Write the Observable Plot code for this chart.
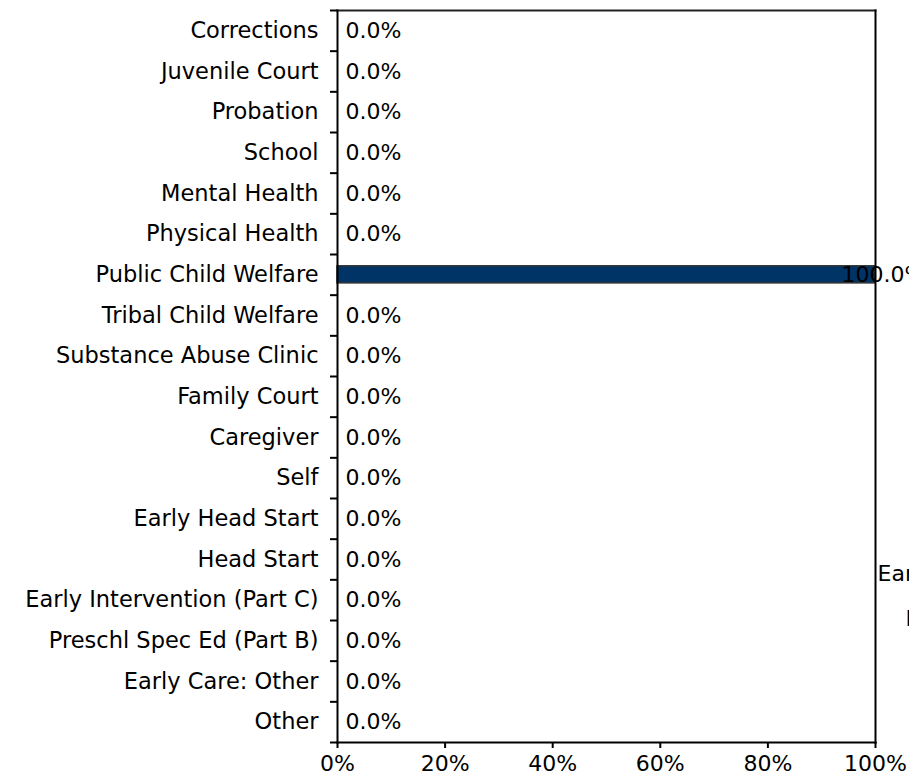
<!DOCTYPE html>
<html>
<head>
<meta charset="utf-8">
<script src="https://cdn.jsdelivr.net/npm/d3@7"></script>
<script src="https://cdn.jsdelivr.net/npm/@observablehq/plot@0.6"></script>
<style>
  html, body { margin: 0; padding: 0; background: #fff; overflow: hidden; }
</style>
</head>
<body>
<div id="chart"></div>
<script>
const categories = [
  "Corrections", "Juvenile Court", "Probation", "School", "Mental Health",
  "Physical Health", "Public Child Welfare", "Tribal Child Welfare",
  "Substance Abuse Clinic", "Family Court", "Caregiver", "Self",
  "Early Head Start", "Head Start", "Early Intervention (Part C)",
  "Preschl Spec Ed (Part B)", "Early Care: Other", "Other"
];
const values = [0, 0, 0, 0, 0, 0, 100, 0, 0, 0, 0, 0, 0, 0, 0, 0, 0, 0];
const xTicks = [0, 20, 40, 60, 80, 100];
const clippedLegendTexts = ["Early Intervention (Part C)", "Preschl Spec Ed (Part B)"];

const data = categories.map((c, i) => ({category: c, value: values[i]}));
const fmt = v => v.toFixed(1) + "%";

const step = 732 / 18;
const half = step / 2;
const tickLen = 7 * 100 / 538;

const chart = Plot.plot({
  width: 909,
  height: 781,
  marginLeft: 337,
  marginRight: 34,
  marginTop: 10,
  marginBottom: 39,
  style: {fontFamily: "DejaVu Sans, Verdana, sans-serif", fontSize: "22px", background: "#fff", color: "#000"},
  x: {domain: [0, 100]},
  y: {domain: categories, paddingInner: 0.58, paddingOuter: 0.29, round: false},
  marks: [
    Plot.barX(data, {x: "value", y: "category", fill: "#003366", stroke: "#333333", strokeWidth: 1.5}),
    // frame: top, right, bottom, left
    Plot.frame({anchor: "top", stroke: "#222", strokeWidth: 2}),
    Plot.frame({anchor: "right", stroke: "#000", strokeWidth: 2}),
    Plot.frame({anchor: "bottom", stroke: "#000", strokeWidth: 2}),
    Plot.frame({anchor: "left", stroke: "#000", strokeWidth: 2}),
    // y tick marks at band boundaries
    Plot.ruleY(categories, {y: d => d, x1: -tickLen, x2: 0, dy: -half, stroke: "#000", strokeWidth: 2, clip: false}),
    Plot.ruleY(categories.slice(-1), {y: d => d, x1: -tickLen, x2: 0, dy: half, stroke: "#000", strokeWidth: 2, clip: false}),
    Plot.axisY({tickSize: 0, tickPadding: 19, label: null, fontSize: 22.5}),
    Plot.axisX({ticks: xTicks, tickFormat: d => d + "%", tickSize: 6, tickPadding: 7, label: null, fontSize: 22, strokeWidth: 2}),
    // value labels
    Plot.text(data.filter(d => d.value === 0), {x: "value", y: "category", text: d => fmt(d.value), textAnchor: "start", dx: 8, fill: "#000"}),
    Plot.text(data.filter(d => d.value > 0), {x: "value", y: "category", text: d => fmt(d.value), textAnchor: "start", dx: -34, fill: "#000"}),
    // clipped legend texts in the right margin
    Plot.text([clippedLegendTexts[0]], {frameAnchor: "top-right", lineAnchor: "middle", text: d => d, textAnchor: "start", dx: 2, dy: 563, fontSize: 22, fill: "#000"}),
    Plot.text([clippedLegendTexts[1]], {frameAnchor: "top-right", lineAnchor: "middle", text: d => d, textAnchor: "start", dx: 30, dy: 608, fontSize: 22, fill: "#000"})
  ]
});
document.getElementById("chart").appendChild(chart);
</script>
</body>
</html>
